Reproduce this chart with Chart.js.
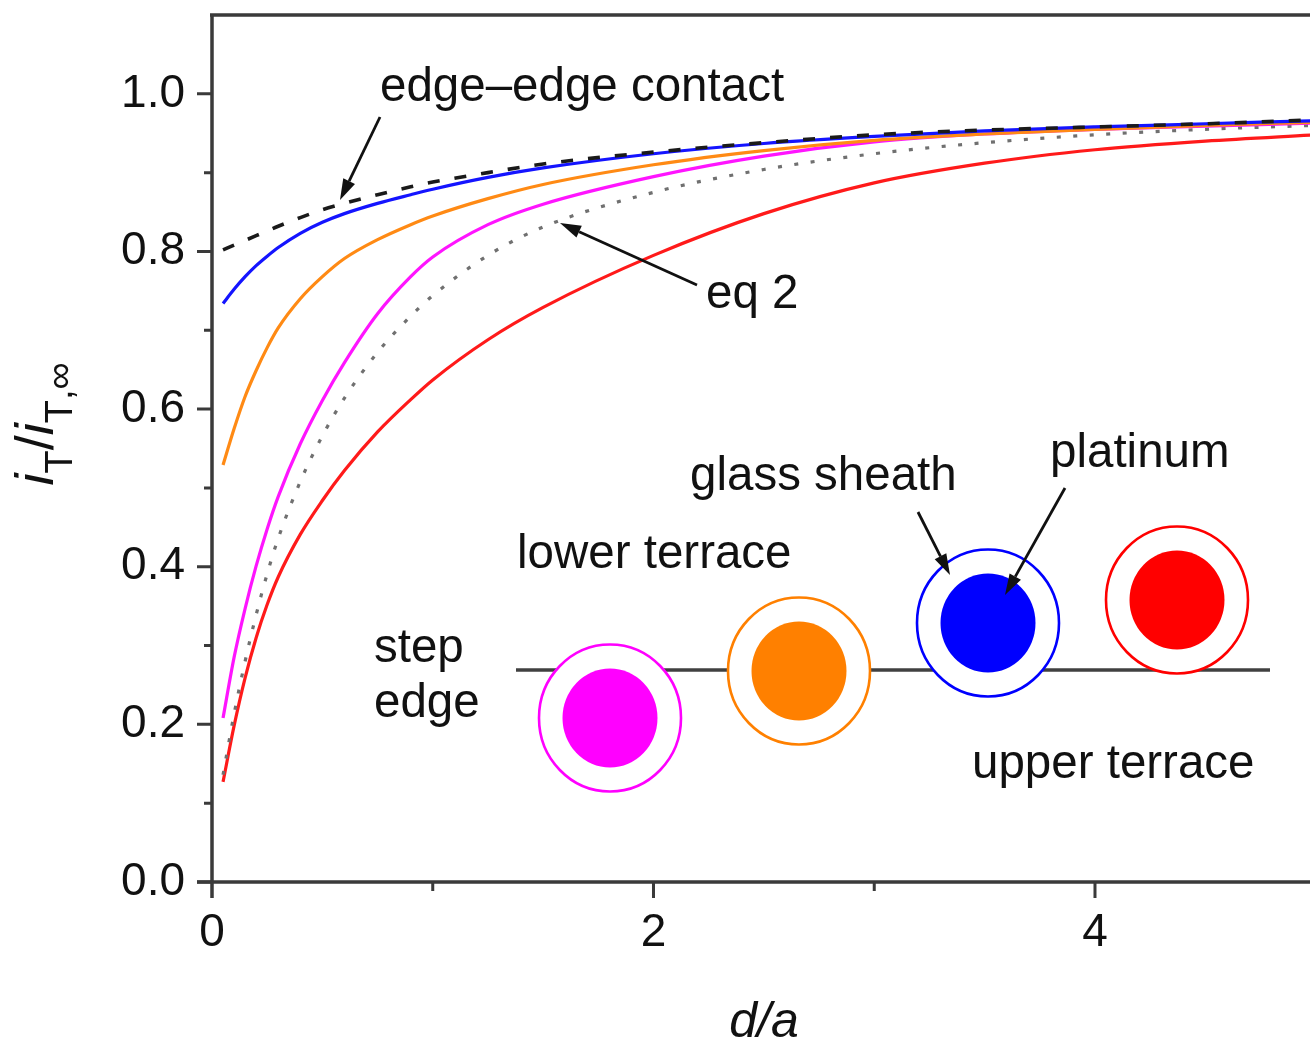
<!DOCTYPE html>
<html>
<head>
<meta charset="utf-8">
<script src="https://cdn.jsdelivr.net/npm/chart.js@4.4.1/dist/chart.umd.min.js"></script>
<style>
  html, body { margin: 0; padding: 0; background: #fff; }
  canvas { display: block; }
</style>
</head>
<body>
<canvas id="chart" width="1310" height="1042"></canvas>
<script>
// d/a values shared by all curves
const dOverA = [0.05, 0.1, 0.15, 0.2, 0.25, 0.3, 0.4, 0.5, 0.6, 0.75, 0.9, 1.0, 1.25, 1.5, 2.0, 2.5, 3.0, 3.5, 4.0, 4.5, 5.0];

// iT/iT,inf
const edgeContact = [0.802, 0.808, 0.814, 0.820, 0.826, 0.832, 0.843, 0.853, 0.861, 0.872, 0.882, 0.888, 0.900, 0.911, 0.926, 0.938, 0.948, 0.954, 0.958, 0.962, 0.967];
const blueTip     = [0.734, 0.752, 0.768, 0.782, 0.794, 0.805, 0.823, 0.837, 0.848, 0.861, 0.872, 0.879, 0.894, 0.906, 0.924, 0.937, 0.946, 0.953, 0.958, 0.962, 0.966];
const orangeTip   = [0.529, 0.575, 0.616, 0.649, 0.678, 0.703, 0.740, 0.768, 0.791, 0.815, 0.834, 0.845, 0.867, 0.885, 0.910, 0.928, 0.941, 0.949, 0.955, 0.960, 0.964];
const magentaTip  = [0.208, 0.285, 0.347, 0.401, 0.448, 0.489, 0.556, 0.611, 0.659, 0.721, 0.768, 0.793, 0.834, 0.860, 0.895, 0.921, 0.939, 0.949, 0.955, 0.959, 0.963];
const eq2         = [0.136, 0.213, 0.280, 0.339, 0.391, 0.436, 0.508, 0.566, 0.614, 0.672, 0.718, 0.744, 0.795, 0.831, 0.875, 0.904, 0.924, 0.938, 0.948, 0.955, 0.960];
const redTip      = [0.127, 0.198, 0.259, 0.310, 0.352, 0.387, 0.441, 0.484, 0.522, 0.571, 0.612, 0.637, 0.688, 0.729, 0.795, 0.848, 0.887, 0.912, 0.929, 0.940, 0.948];

const xTicks = [0, 2, 4];
const yTicks = [0.0, 0.2, 0.4, 0.6, 0.8, 1.0];

const fontFamily = '"Liberation Sans", Arial, Helvetica, sans-serif';
const ink = '#111111';
const axisInk = '#3a3a3a';

const toPoints = ys => ys.map((y, i) => ({ x: dOverA[i], y: y }));

function arrow(ctx, x1, y1, x2, y2) {
    const ang = Math.atan2(y2 - y1, x2 - x1);
    const headLen = 21, headW = 6.5;
    const bx = x2 - headLen * Math.cos(ang);
    const by = y2 - headLen * Math.sin(ang);
    ctx.beginPath();
    ctx.moveTo(x1, y1);
    ctx.lineTo(bx, by);
    ctx.stroke();
    ctx.beginPath();
    ctx.moveTo(x2, y2);
    ctx.lineTo(bx + headW * Math.sin(ang), by - headW * Math.cos(ang));
    ctx.lineTo(bx - headW * Math.sin(ang), by + headW * Math.cos(ang));
    ctx.closePath();
    ctx.fill();
}

// the electrode sketch: sheath ring + platinum disc
function electrode(ctx, cx, cy, color) {
    ctx.beginPath();
    ctx.ellipse(cx, cy, 71, 73.5, 0, 0, Math.PI * 2);
    ctx.fillStyle = '#fff';
    ctx.fill();
    ctx.lineWidth = 2.6;
    ctx.strokeStyle = color;
    ctx.stroke();
    ctx.beginPath();
    ctx.ellipse(cx, cy, 47.5, 49.5, 0, 0, Math.PI * 2);
    ctx.fillStyle = color;
    ctx.fill();
}

const framePlugin = {
    id: 'frame',
    afterDraw(chart) {
        const ctx = chart.ctx;
        const xs = chart.scales.x, ys = chart.scales.y;
        const area = chart.chartArea;
        ctx.save();

        // axes + top border
        ctx.strokeStyle = axisInk;
        ctx.lineWidth = 3.5;
        ctx.beginPath();
        ctx.moveTo(area.left, area.top);
        ctx.lineTo(area.left, area.bottom + 16);
        ctx.moveTo(area.left - 15, area.bottom);
        ctx.lineTo(area.right, area.bottom);
        ctx.moveTo(area.left - 2, area.top);
        ctx.lineTo(area.right, area.top);
        ctx.stroke();

        // tick marks, major and minor
        ctx.lineWidth = 3;
        ctx.beginPath();
        for (let v = 0; v <= 1.0001; v += 0.1) {
            const py = ys.getPixelForValue(v);
            const major = Math.round(v * 10) % 2 === 0;
            ctx.moveTo(area.left - (major ? 15 : 8), py);
            ctx.lineTo(area.left, py);
        }
        for (let v = 1; v <= 4; v++) {
            const px = xs.getPixelForValue(v);
            const major = v % 2 === 0;
            ctx.moveTo(px, area.bottom);
            ctx.lineTo(px, area.bottom + (major ? 16 : 9));
        }
        ctx.stroke();

        // x title
        ctx.fillStyle = ink;
        ctx.textBaseline = 'alphabetic';
        ctx.textAlign = 'center';
        ctx.font = 'italic 50px ' + fontFamily;
        ctx.fillText('d/a', 764, 1037);

        // y title, rotated, with subscripts
        ctx.save();
        ctx.translate(53, 424);
        ctx.rotate(-Math.PI / 2);
        ctx.textAlign = 'left';
        const parts = [
            { t: 'i', f: 'italic 54px ', dy: 0 },
            { t: 'T', f: '38px ', dy: 19 },
            { t: '/', f: '54px ', dy: 0 },
            { t: 'i', f: 'italic 54px ', dy: 0 },
            { t: 'T', f: '38px ', dy: 19 },
            { t: ',', f: '38px ', dy: 19 },
            { t: '\u221E', f: '38px ', dy: 19 }
        ];
        let total = 0;
        parts.forEach(p => { ctx.font = p.f + fontFamily; p.w = ctx.measureText(p.t).width; total += p.w; });
        let cx = -total / 2;
        parts.forEach(p => {
            ctx.font = p.f + fontFamily;
            ctx.fillText(p.t, cx, p.dy);
            cx += p.w;
        });
        ctx.restore();

        // annotations
        ctx.textAlign = 'left';
        ctx.font = '47.5px ' + fontFamily;
        ctx.fillText('edge\u2013edge contact', 380, 101);
        ctx.fillText('eq 2', 706, 308);
        ctx.strokeStyle = ink;
        ctx.lineWidth = 2.8;
        arrow(ctx, 380, 117, 340, 200);
        arrow(ctx, 697, 285, 560, 223);

        // inset sketch
        ctx.strokeStyle = '#404040';
        ctx.lineWidth = 3.5;
        ctx.beginPath();
        ctx.moveTo(516, 670);
        ctx.lineTo(1270, 670);
        ctx.stroke();
        electrode(ctx, 610, 718, '#ff00ff');
        electrode(ctx, 799, 671, '#ff8000');
        electrode(ctx, 988, 623, '#0000ff');
        electrode(ctx, 1177, 600, '#ff0000');

        ctx.fillStyle = ink;
        ctx.strokeStyle = ink;
        ctx.font = '47.5px ' + fontFamily;
        ctx.fillText('lower terrace', 517, 568);
        ctx.fillText('glass sheath', 690, 490);
        ctx.fillText('platinum', 1050, 467);
        ctx.fillText('step', 374, 662);
        ctx.fillText('edge', 374, 717);
        ctx.fillText('upper terrace', 972, 778);
        ctx.lineWidth = 2.8;
        arrow(ctx, 918, 512, 950, 575);
        arrow(ctx, 1065, 488, 1005, 595);

        ctx.restore();
    }
};

const lineBase = {
    pointRadius: 0,
    borderWidth: 3.2,
    fill: false,
    cubicInterpolationMode: 'monotone'
};

new Chart(document.getElementById('chart'), {
    type: 'line',
    data: {
        datasets: [
            Object.assign({ data: toPoints(edgeContact), borderColor: '#1a1a1a', borderDash: [12, 15] }, lineBase, { borderWidth: 3.6 }),
            Object.assign({ data: toPoints(blueTip), borderColor: '#1414ff' }, lineBase),
            Object.assign({ data: toPoints(orangeTip), borderColor: '#ff8a14' }, lineBase),
            Object.assign({ data: toPoints(magentaTip), borderColor: '#ff14ff' }, lineBase),
            Object.assign({ data: toPoints(eq2), borderColor: '#707070', borderDash: [4, 12.5] }, lineBase),
            Object.assign({ data: toPoints(redTip), borderColor: '#ff1a1a' }, lineBase)
        ]
    },
    options: {
        responsive: false,
        animation: false,
        devicePixelRatio: 1,
        layout: { padding: { top: 15, right: 0, bottom: 0, left: 0 } },
        plugins: {
            legend: { display: false },
            tooltip: { enabled: false }
        },
        scales: {
            x: {
                type: 'linear',
                min: 0,
                max: 4.974,
                afterFit: scale => {
                    scale.height = 160;
                    scale.paddingLeft = 0;
                    scale.paddingRight = 0;
                },
                afterBuildTicks: scale => { scale.ticks = xTicks.map(v => ({ value: v })); },
                grid: { display: false, drawTicks: false },
                border: { display: false },
                ticks: {
                    padding: 24,
                    color: ink,
                    font: { family: fontFamily, size: 46 },
                    callback: v => String(v)
                }
            },
            y: {
                min: 0,
                max: 1.1,
                afterFit: scale => {
                    scale.width = 212;
                    scale.paddingTop = 0;
                    scale.paddingBottom = 0;
                },
                afterBuildTicks: scale => { scale.ticks = yTicks.map(v => ({ value: v })); },
                grid: { display: false, drawTicks: false },
                border: { display: false },
                ticks: {
                    padding: 27,
                    color: ink,
                    font: { family: fontFamily, size: 46 },
                    callback: v => v.toFixed(1)
                }
            }
        }
    },
    plugins: [framePlugin]
});
</script>
</body>
</html>
